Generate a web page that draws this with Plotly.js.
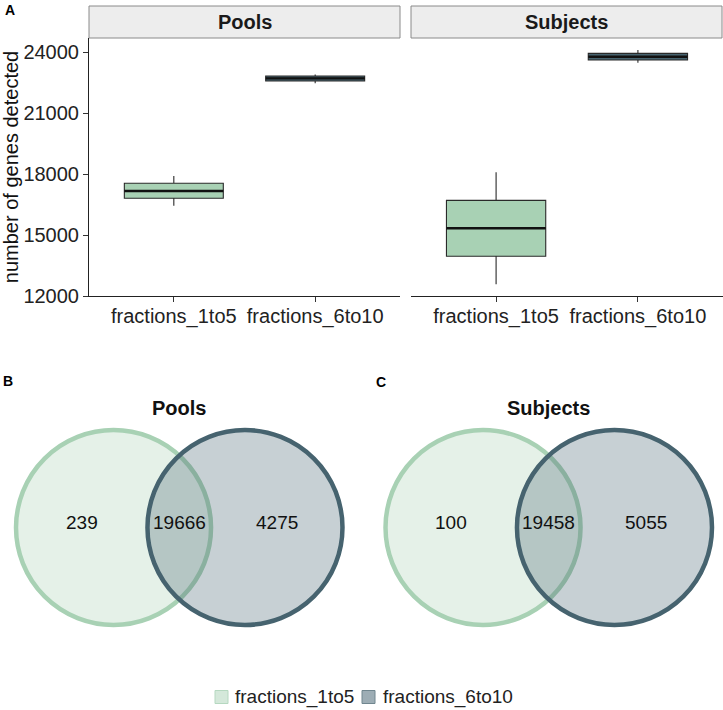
<!DOCTYPE html>
<html>
<head>
<meta charset="utf-8">
<script src="https://cdn.plot.ly/plotly-3.0.1.min.js"></script>
<style>html,body{margin:0;padding:0;background:#fff;}#chart{width:723px;height:710px;}</style>
</head>
<body>
<div id="chart"></div>
<script>
// ---- Data ----
const categories = ['fractions_1to5', 'fractions_6to10'];
const facets = ['Pools', 'Subjects'];

// Box statistics
const poolsLower  = [16441, 22460];
const poolsQ1     = [16805, 22574];
const poolsMedian = [17164, 22706];
const poolsQ3     = [17543, 22820];
const poolsUpper  = [17900, 22900];

const subjectsLower  = [12575, 23475];
const subjectsQ1     = [13952, 23607];
const subjectsMedian = [15330, 23770];
const subjectsQ3     = [16705, 23934];
const subjectsUpper  = [18082, 24098];

const yTickVals = [12000, 15000, 18000, 21000, 24000];
const yTickText = ['12000', '15000', '18000', '21000', '24000'];

// Venn counts
const vennTitles = ['Pools', 'Subjects'];
const vennOnly1to5 = [239, 100];
const vennBoth = [19666, 19458];
const vennOnly6to10 = [4275, 5055];

// ---- Styles ----
const fillColors = ['#A8D1B4', '#46636F'];
const vennFill = ['rgba(168,209,180,0.3)', 'rgba(70,99,111,0.3)'];
const legendFill = ['#D4E8DA', '#9DADB5'];
const legendLine = ['#B5D8C0', '#70868F'];
const FONT = 'Liberation Sans, Arial, Helvetica, sans-serif';
const FS = 20;
const BOXW = 0.7;

const stats = [
  {lower: poolsLower, q1: poolsQ1, med: poolsMedian, q3: poolsQ3, upper: poolsUpper, xa: 'x', ya: 'y'},
  {lower: subjectsLower, q1: subjectsQ1, med: subjectsMedian, q3: subjectsQ3, upper: subjectsUpper, xa: 'x2', ya: 'y2'}
];

const traces = [];
const shapes = [];
const annotations = [];

stats.forEach(s => {
  categories.forEach((c, i) => {
    traces.push({
      type: 'box',
      x: [c],
      lowerfence: [s.lower[i]],
      q1: [s.q1[i]],
      median: [s.med[i]],
      q3: [s.q3[i]],
      upperfence: [s.upper[i]],
      xaxis: s.xa, yaxis: s.ya,
      width: BOXW,
      whiskerwidth: 0,
      fillcolor: fillColors[i],
      line: {color: '#2a2a2a', width: 1.1},
      showlegend: false,
      hoverinfo: 'skip'
    });
    // thicker median (ggplot style)
    shapes.push({type: 'line', xref: s.xa, yref: s.ya, x0: i - BOXW / 2, x1: i + BOXW / 2,
      y0: s.med[i], y1: s.med[i], line: {color: '#111', width: 2.4}});
  });
});

// ---- Venn geometry (layout units: radius 1) ----
const R = 1, CX = 0.674;
const vennX = ['x3', 'x4'], vennY = ['y3', 'y4'];

// dummy traces so venn axes exist
traces.push({type: 'scatter', x: [null], y: [null], xaxis: 'x3', yaxis: 'y3', showlegend: false, hoverinfo: 'skip'});
traces.push({type: 'scatter', x: [null], y: [null], xaxis: 'x4', yaxis: 'y4', showlegend: false, hoverinfo: 'skip'});

// strips
const stripX = [[89 / 723, 400 / 723], [411 / 723, 722 / 723]];
facets.forEach((f, k) => {
  shapes.push({type: 'rect', xref: 'paper', yref: 'paper',
    x0: stripX[k][0], x1: stripX[k][1], y0: 1 - 38 / 710, y1: 1 - 6 / 710,
    fillcolor: '#EDEDED', line: {color: '#8A8A8A', width: 1}});
  annotations.push({xref: 'paper', yref: 'paper', x: (stripX[k][0] + stripX[k][1]) / 2, y: 1 - 22 / 710,
    text: '<b>' + f + '</b>', showarrow: false, font: {family: FONT, size: 20, color: '#1a1a1a'},
    xanchor: 'center', yanchor: 'middle'});
});

vennTitles.forEach((t, k) => {
  shapes.push({type: 'circle', xref: vennX[k], yref: vennY[k],
    x0: -CX - R, x1: -CX + R, y0: -R, y1: R,
    fillcolor: vennFill[0], line: {color: fillColors[0], width: 4.5}});
  shapes.push({type: 'circle', xref: vennX[k], yref: vennY[k],
    x0: CX - R, x1: CX + R, y0: -R, y1: R,
    fillcolor: vennFill[1], line: {color: fillColors[1], width: 4.5}});
  const labs = [vennOnly1to5[k], vennBoth[k], vennOnly6to10[k]];
  const lx = [-1.0, 0, 1.0];
  labs.forEach((v, j) => {
    annotations.push({xref: vennX[k], yref: vennY[k], x: lx[j], y: 0.056, text: String(v),
      showarrow: false, font: {family: FONT, size: 19, color: '#111'}, xanchor: 'center', yanchor: 'middle'});
  });
  annotations.push({xref: vennX[k], yref: vennY[k], x: 0, y: 1.226, text: '<b>' + t + '</b>',
    showarrow: false, font: {family: FONT, size: 20, color: '#111'}, xanchor: 'center', yanchor: 'middle'});
});

// legend (drawn manually to match the ggplot layout)
const legSqX = [215, 362], legTxtX = [233, 381], legY = 697;
categories.forEach((c, i) => {
  shapes.push({type: 'rect', xref: 'paper', yref: 'paper',
    x0: legSqX[i] / 723, x1: (legSqX[i] + 13) / 723, y0: 1 - (legY + 6.5) / 710, y1: 1 - (legY - 6.5) / 710,
    fillcolor: legendFill[i], line: {color: legendLine[i], width: 1}});
  annotations.push({xref: 'paper', yref: 'paper', x: legTxtX[i] / 723, y: 1 - legY / 710, text: c,
    showarrow: false, font: {family: FONT, size: 19, color: '#222'}, xanchor: 'left', yanchor: 'middle'});
});

// panel letters
[['A', 10, 10], ['B', 8, 381], ['C', 381, 382]].forEach(p => {
  annotations.push({xref: 'paper', yref: 'paper', x: p[1] / 723, y: 1 - p[2] / 710, text: '<b>' + p[0] + '</b>',
    showarrow: false, font: {family: FONT, size: 14, color: '#000'}, xanchor: 'center', yanchor: 'middle'});
});

const yDom = [1 - 296 / 710, 1 - 38 / 710];
const commonX = {
  type: 'category', range: [-0.6, 1.6], showline: true, linecolor: '#222', linewidth: 1,
  ticks: 'outside', ticklen: 5, tickcolor: '#333', tickwidth: 1, ticklabelstandoff: -3,
  tickfont: {family: FONT, size: FS, color: '#222'}, showgrid: false, zeroline: false, fixedrange: true
};

const layout = {
  width: 723, height: 710,
  margin: {l: 0, r: 0, t: 0, b: 0},
  paper_bgcolor: '#fff', plot_bgcolor: '#fff',
  font: {family: FONT, color: '#222'},
  showlegend: false,
  xaxis: Object.assign({}, commonX, {domain: [89 / 723, 400 / 723], anchor: 'y', categoryarray: categories, categoryorder: 'array'}),
  xaxis2: Object.assign({}, commonX, {domain: [411 / 723, 723 / 723], anchor: 'y2', categoryarray: categories, categoryorder: 'array'}),
  yaxis: {
    domain: yDom, range: [12000, 24690], tickvals: yTickVals, ticktext: yTickText,
    showline: true, linecolor: '#222', linewidth: 1, ticks: 'outside', ticklen: 5, tickcolor: '#333',
    tickfont: {family: FONT, size: FS, color: '#222'}, showgrid: false, zeroline: false, anchor: 'x',
    title: {text: 'number of genes detected', font: {family: FONT, size: FS, color: '#111'}, standoff: 4}
  },
  yaxis2: {domain: yDom, range: [12000, 24690], anchor: 'x2', showticklabels: false, ticks: '', showline: false,
    showgrid: false, zeroline: false},
  xaxis3: {domain: [8.6 / 723, 349.9 / 723], range: [-1.75, 1.75], visible: false, anchor: 'y3'},
  yaxis3: {domain: [1 - 654.25 / 710, 1 - 400.75 / 710], range: [-1.3, 1.3], visible: false, anchor: 'x3'},
  xaxis4: {domain: [378.1 / 723, 719.4 / 723], range: [-1.75, 1.75], visible: false, anchor: 'y4'},
  yaxis4: {domain: [1 - 654.25 / 710, 1 - 400.75 / 710], range: [-1.3, 1.3], visible: false, anchor: 'x4'},
  shapes: shapes,
  annotations: annotations
};

Plotly.newPlot('chart', traces, layout, {displayModeBar: false, staticPlot: true});
</script>
</body>
</html>
